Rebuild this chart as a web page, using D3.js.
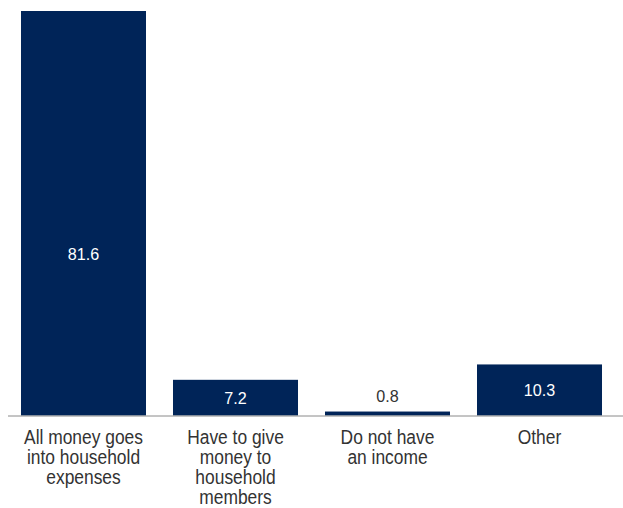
<!DOCTYPE html>
<html>
<head>
<meta charset="utf-8">
<script src="https://cdn.jsdelivr.net/npm/d3@7"></script>
<style>
  html, body { margin: 0; padding: 0; background: #fff; }
  svg { display: block; }
  text { font-family: "Liberation Sans", Arial, Helvetica, sans-serif; }
</style>
</head>
<body>
<svg id="chart" width="623" height="508"></svg>
<script>
// Where household income goes (%)
const categories = [
  "All money goes into household expenses",
  "Have to give money to household members",
  "Do not have an income",
  "Other"
];
const categoryLines = [
  ["All money goes", "into household", "expenses"],
  ["Have to give", "money to", "household", "members"],
  ["Do not have", "an income"],
  ["Other"]
];
const values = [81.6, 7.2, 0.8, 10.3];
const valueLabels = ["81.6", "7.2", "0.8", "10.3"];

const W = 623, H = 508;
const baseline = 415.5, plotTop = 11;
const barColor = "#002458";
const textColor = "#333333";
const condense = 0.87; // horizontal squeeze for a condensed look

const svg = d3.select("#chart");

const x = d3.scaleBand()
  .domain(categories)
  .range([8, 615])
  .paddingInner(0.1776)
  .paddingOuter(0.0855);

const y = d3.scaleLinear()
  .domain([0, d3.max(values)])
  .range([baseline, plotTop]);

const data = categories.map((c, i) => ({ c, v: values[i], label: valueLabels[i], lines: categoryLines[i] }));

// Bars
svg.append("g").selectAll("rect")
  .data(data)
  .join("rect")
  .attr("x", d => x(d.c))
  .attr("y", d => y(d.v))
  .attr("width", x.bandwidth())
  .attr("height", d => y(0) - y(d.v))
  .attr("fill", barColor);

// Baseline
svg.append("line")
  .attr("x1", 8).attr("x2", W)
  .attr("y1", baseline + 0.5).attr("y2", baseline + 0.5)
  .attr("stroke", "#8a8a8a")
  .attr("stroke-width", 1);

// Value labels: inside the bar when it is tall enough, otherwise above it
const isShort = d => (y(0) - y(d.v)) < 24;
svg.append("g").selectAll("text")
  .data(data)
  .join("text")
  .attr("transform", d => {
    const cx = x(d.c) + x.bandwidth() / 2;
    const cy = isShort(d) ? y(d.v) - 10 : y(Math.min(d.v / 2, 32.5));
    return `translate(${cx},${cy}) scale(0.95,1)`;
  })
  .attr("dy", d => isShort(d) ? 0 : "0.35em")
  .attr("text-anchor", "middle")
  .attr("font-size", "17px")
  .attr("fill", d => isShort(d) ? textColor : "#ffffff")
  .text(d => d.label);

// Category labels below the axis
const catG = svg.append("g");
data.forEach(d => {
  const cx = x(d.c) + x.bandwidth() / 2;
  const t = catG.append("text")
    .attr("transform", `translate(${cx},443.5) scale(${condense},1)`)
    .attr("text-anchor", "middle")
    .attr("font-size", "20px")
    .attr("fill", textColor);
  d.lines.forEach((ln, j) => {
    t.append("tspan")
      .attr("x", 0)
      .attr("y", j * 20.3)
      .text(ln);
  });
});
</script>
</body>
</html>
